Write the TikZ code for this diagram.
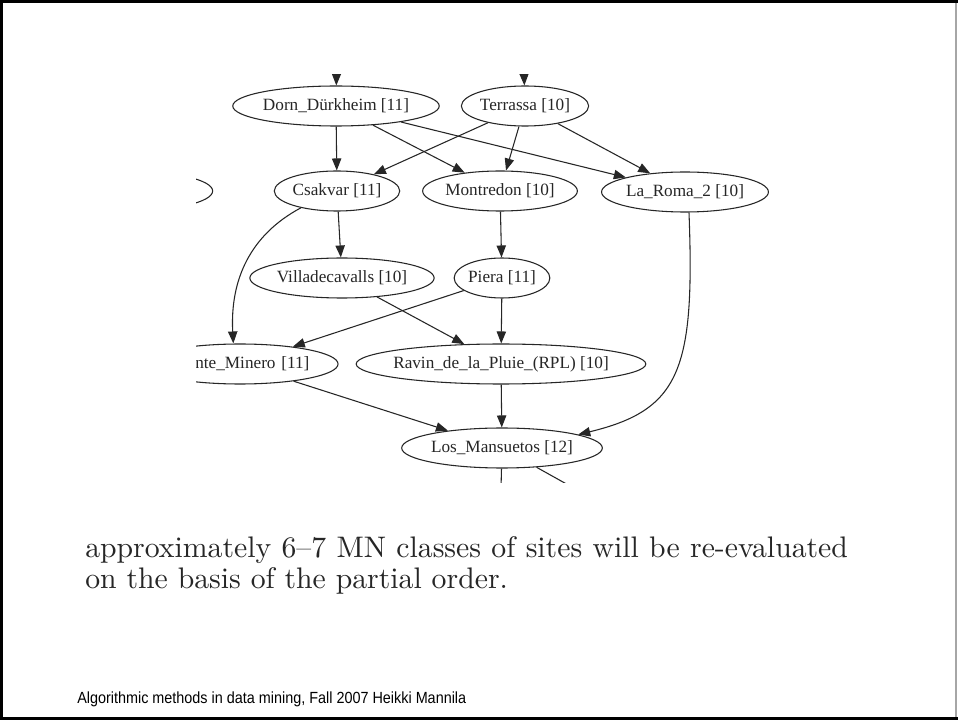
\documentclass[tikz,border=0pt]{standalone}
\usepackage{fontspec}
\newfontfamily\dotfont{Liberation Serif}
\newfontfamily\footfont{Liberation Sans}
\newfontfamily\tenfont{lmroman10-regular}[Extension=.otf, Ligatures=TeX]
\usetikzlibrary{arrows.meta,shapes.geometric}

\tikzset{
  site/.style={draw=black!85, ellipse, inner sep=0pt, minimum height=30pt, line width=0.8pt,
    text=black!85, font=\dotfont\fontsize{12.9}{15}\selectfont},
  dep/.style={draw=black!85, line width=0.8pt, -{Triangle[length=9pt,width=7pt]}},
  body/.style={anchor=base west, inner sep=0pt, text=black!85, font=\tenfont\fontsize{22.3}{26}\selectfont},
}

\begin{document}
\begin{tikzpicture}[x=0.75pt, y=-0.75pt]
    \useasboundingbox (0,0) rectangle (958,720);
    \fill [white] (0,0) rectangle (958,720);
    \fill [black] (0,0) rectangle (958,3);
    \fill [black] (0,0) rectangle (2.5,720);
    \fill [black] (0,717) rectangle (958,720);
    \fill [black!35] (955,3) rectangle (957,717);

    \begin{scope}
    \clip (196,75) rectangle (900,483);
    \node [site] (dorn) at (336,106) {Dorn\_Dürkheim [11]};
    \node [site] (terr) at (525,106) {Terrassa [10]};
    \node [site, minimum width=127pt] (left) at (128,191) {};
    \node [site] (csak) at (337,191) {Csakvar [11]};
    \node [site] (mont) at (500,191) {Montredon [10]};
    \node [site] (roma) at (685,192) {La\_Roma\_2 [10]};
    \node [site] (villa) at (342,278) {Villadecavalls [10]};
    \node [site] (piera) at (502,278) {Piera [11]};
    \node [site, text width=104pt, align=right] (minero) at (240,364) {nte\_Minero [11]};
    \node [site, inner xsep=-4pt] (ravin) at (501,364) {Ravin\_de\_la\_Pluie\_(RPL) [10]};
    \node [site] (losm) at (502,448) {Los\_Mansuetos [12]};

    \coordinate (indorn) at (337,40);
    \coordinate (interr) at (523,40);
    \coordinate (outa) at (500,530);
    \coordinate (outb) at (640,525);

    \draw [dep] (indorn) -- (dorn);
    \draw [dep] (interr) -- (terr);
    \draw [dep] (dorn) -- (csak);
    \draw [dep] (dorn) -- (mont);
    \draw [dep] (dorn) -- (roma);
    \draw [dep] (terr) -- (csak);
    \draw [dep] (terr) -- (mont);
    \draw [dep] (terr) -- (roma);
    \draw [dep] (csak) -- (villa);
    \draw [dep] (csak.-155) .. controls (250,235) and (230,280) .. ([xshift=-5pt]minero.north);
    \draw [dep] (mont) -- (piera);
    \draw [dep] (piera) -- (minero);
    \draw [dep] (piera) -- (ravin);
    \draw [dep] (villa) -- (ravin);
    \draw [dep] (minero) -- (losm);
    \draw [dep] (ravin) -- (losm);
    \draw [dep] ([xshift=3pt]roma.south) .. controls (695,370) and (680,410) .. (losm.10);
    \draw [draw=black!85, line width=0.8pt] (losm) -- (outa);
    \draw [draw=black!85, line width=0.8pt] (losm) -- (outb);
    \end{scope}

    \node [body] (line1) at (85,557)
      {\makebox[572pt][s]{approximately 6--7 MN classes of sites will be re-evaluated}};
    \node [body] (line2) at (85,589) {on the basis of the partial order.};
    \node [anchor=base west, inner sep=0pt, font=\footfont\fontsize{10.8}{13}\selectfont] (foot) at (77,703)
      {\scalebox{1}[1.12]{Algorithmic methods in data mining, Fall 2007 Heikki Mannila}};
\end{tikzpicture}
\end{document}
